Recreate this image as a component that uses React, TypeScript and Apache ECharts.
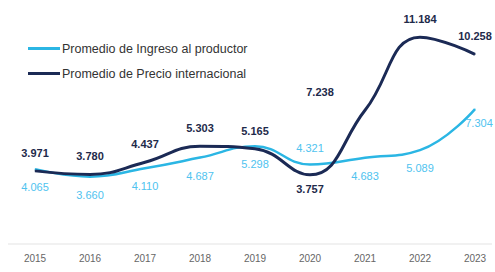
import React, { useEffect, useRef } from "react";
import * as echarts from "echarts";

const years = ["2015", "2016", "2017", "2018", "2019", "2020", "2021", "2022", "2023"];
const ingreso = [4.065, 3.66, 4.11, 4.687, 5.298, 4.321, 4.683, 5.089, 7.304];
const precio = [3.971, 3.78, 4.437, 5.303, 5.165, 3.757, 7.238, 11.184, 10.258];
const ingresoName = "Promedio de Ingreso al productor";
const precioName = "Promedio de Precio internacional";

const fmt = (v: number) => v.toFixed(3);

const FONT = "'Liberation Sans', Arial, sans-serif";
const LIGHT = "#2bb6e4";
const DARK = "#1b2a55";

export default function App() {
  const ref = useRef<HTMLDivElement>(null);
  useEffect(() => {
    document.body.style.margin = "0";
    const chart = echarts.init(ref.current!, undefined, { renderer: "svg" });

    const ingresoLabel = (i: number) => {
      if (i === 5) return { position: "top", distance: 10 };
      if (i === 8) return { position: "bottom", distance: 8, offset: [4, 0] };
      return { position: "bottom", distance: 12 };
    };
    const precioLabel = (i: number) => {
      if (i === 5) return { position: "bottom", distance: 8 };
      if (i === 6) return { position: "top", distance: 10, offset: [-45, -2] };
      return { position: "top", distance: 12 };
    };

    chart.setOption({
      animation: false,
      textStyle: { fontFamily: FONT },
      legend: {
        orient: "vertical",
        left: 23,
        top: 37,
        itemWidth: 32,
        itemHeight: 3,
        itemGap: 12,
        icon: "rect",
        textStyle: { fontSize: 12.5, color: "#333", fontFamily: FONT, padding: [0, 0, 0, -3] },
        data: [
          { name: ingresoName, itemStyle: { color: LIGHT, opacity: 1 } },
          { name: precioName, itemStyle: { color: DARK, opacity: 1 } },
        ],
      },
      grid: { left: 35, right: 20, top: 22, bottom: 27.5 },
      xAxis: {
        type: "category",
        data: years,
        boundaryGap: false,
        axisLine: { show: false },
        axisTick: { show: false },
        axisLabel: { color: "#666", fontSize: 10, margin: 9, fontFamily: FONT },
        splitLine: { show: false },
      },
      yAxis: { type: "value", min: 0, max: 12, show: false },
      graphic: [
        {
          type: "line",
          shape: { x1: 8, y1: 244, x2: 492, y2: 244 },
          style: { stroke: "#e3e3e3", lineWidth: 1 },
          silent: true,
        },
      ],
      series: [
        {
          name: ingresoName,
          type: "line",
          smooth: 0.45,
          symbol: "circle",
          symbolSize: 1,
          showSymbol: true,
          lineStyle: { color: LIGHT, width: 2.5 },
          itemStyle: { color: LIGHT },
          data: ingreso.map((v, i) => ({
            value: v,
            label: {
              show: true,
              formatter: fmt(v),
              color: "#4fc3ef",
              fontSize: 11,
              fontFamily: FONT,
              ...ingresoLabel(i),
            },
          })),
        },
        {
          name: precioName,
          type: "line",
          smooth: 0.45,
          symbol: "circle",
          symbolSize: 1,
          showSymbol: true,
          lineStyle: { color: DARK, width: 3 },
          itemStyle: { color: DARK },
          data: precio.map((v, i) => ({
            value: v,
            label: {
              show: true,
              formatter: fmt(v),
              color: "#1e2a4a",
              fontWeight: "bold",
              fontSize: 11,
              fontFamily: FONT,
              ...precioLabel(i),
            },
          })),
        },
      ],
    });
    return () => chart.dispose();
  }, []);
  return <div ref={ref} style={{ position: "absolute", left: 0, top: 0, width: 495, height: 272 }} />;
}
